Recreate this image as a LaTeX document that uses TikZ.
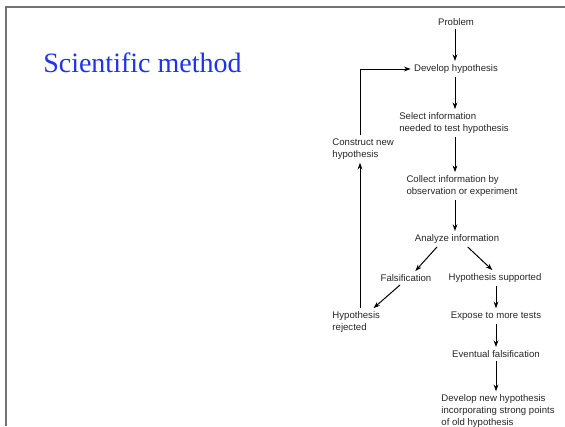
\documentclass[tikz,border=0pt]{standalone}
\usepackage{fontspec}
\setmainfont{Liberation Sans}
\newfontfamily\titlefont{Liberation Serif}
\usetikzlibrary{arrows.meta}
\definecolor{titleblue}{RGB}{30,50,240}

\begin{document}
\begin{tikzpicture}[x=0.75pt,y=0.75pt,yscale=-1,xscale=1,
	step text/.style={font=\fontsize{7.2}{8.9}\selectfont, text=black!85, inner sep=2.4pt, align=left},
	arr/.style={-{Stealth[length=5pt,width=3.6pt]}, line width=0.75pt},
	frame/.style={draw=black!55, line width=1.5pt}]
		\useasboundingbox (0,0) rectangle (565,426);
		\draw [frame] (5.5,426) -- (5.5,6.5) -- (565,6.5);
		\node [anchor=base west, inner sep=0pt, text=titleblue, font=\titlefont\fontsize{21}{25}\selectfont] (title) at (43,72) {Scientific method};
		\node [step text] (prob) at (456,22) {Problem};
		\node [step text] (devhyp) at (456,69) {Develop hypothesis};
		\node [step text] (select) at (454,123) {Select information\\needed to test hypothesis};
		\node [step text] (collect) at (462,186) {Collect information by\\observation or experiment};
		\node [step text] (analyze) at (457,239) {Analyze information};
		\node [step text] (fals) at (406,278) {Falsification};
		\node [step text] (supp) at (495,278) {Hypothesis supported};
		\node [step text, anchor=west] (reject) at (329,322) {Hypothesis\\rejected};
		\node [step text, anchor=west] (construct) at (329,149) {Construct new\\hypothesis};
		\node [step text] (expose) at (496,316) {Expose to more tests};
		\node [step text] (eventual) at (496,354) {Eventual falsification};
		\node [step text, anchor=west] (devnew) at (438,411) {Develop new hypothesis\\incorporating strong points\\of old hypothesis};
		\coordinate (back) at (360,69);
		\coordinate (spine) at (455,0);
		\coordinate (spine2) at (496,0);
		\draw [arr] (prob.south -| spine) -- (devhyp.north -| spine);
		\draw [arr] (devhyp.south -| spine) -- (select.north -| spine);
		\draw [arr] (select.south -| spine) -- (collect.north -| spine);
		\draw [arr] (collect.south -| spine) -- (analyze.north -| spine);
		\draw [arr] ([xshift=-15pt]analyze.south) -- ([xshift=7pt]fals.north);
		\draw [arr] ([xshift=8pt]analyze.south) -- ([xshift=-2pt]supp.north);
		\draw [arr] ([xshift=-4.5pt]fals.south) -- ([xshift=13pt]reject.north);
		\draw [arr] (reject.north -| back) -- (construct.south -| back);
		\draw [arr] (construct.north -| back) |- (devhyp.west);
		\draw [arr] (supp.south -| spine2) -- (expose.north -| spine2);
		\draw [arr] (expose.south -| spine2) -- (eventual.north -| spine2);
		\draw [arr] (eventual.south -| spine2) -- (devnew.north -| spine2);
\end{tikzpicture}
\end{document}
